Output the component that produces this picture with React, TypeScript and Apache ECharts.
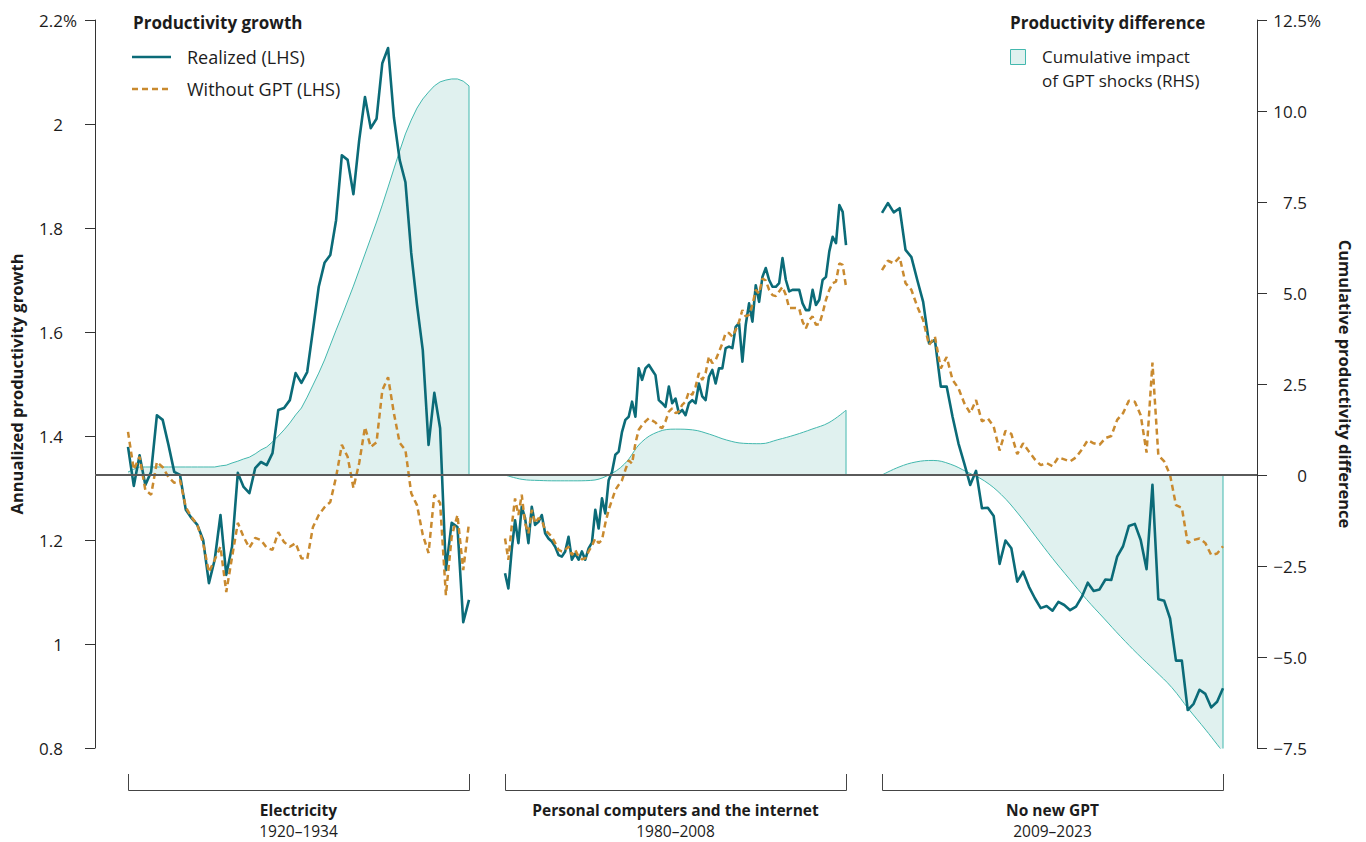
import React, { useEffect, useRef } from "react";
import * as echarts from "echarts";

// ---------- Data ----------
// Electricity 1920–1934 (quarterly), left axis: annualized productivity growth (%)
const ELEC_REALIZED = [
  1.379, 1.304, 1.363, 1.306, 1.331, 1.44, 1.431, 1.383, 1.331, 1.325,
  1.258, 1.242, 1.229, 1.2, 1.117, 1.162, 1.248, 1.133, 1.187, 1.329,
  1.302, 1.29, 1.338, 1.35, 1.344, 1.367, 1.45, 1.454, 1.469, 1.521,
  1.502, 1.523, 1.604, 1.687, 1.733, 1.748, 1.815, 1.94, 1.931, 1.865,
  1.969, 2.052, 1.992, 2.01, 2.117, 2.146, 2.013, 1.931, 1.888, 1.752,
  1.652, 1.565, 1.383, 1.483, 1.415, 1.142, 1.233, 1.225, 1.042, 1.085,
];
const ELEC_NO_GPT = [
  1.408, 1.335, 1.36, 1.296, 1.287, 1.35, 1.34, 1.321, 1.31, 1.315,
  1.263, 1.244, 1.229, 1.194, 1.138, 1.162, 1.187, 1.1, 1.167, 1.233,
  1.206, 1.185, 1.204, 1.2, 1.185, 1.181, 1.215, 1.196, 1.187, 1.194,
  1.165, 1.163, 1.225, 1.248, 1.263, 1.273, 1.321, 1.383, 1.36, 1.3,
  1.348, 1.417, 1.379, 1.388, 1.488, 1.513, 1.444, 1.387, 1.373, 1.29,
  1.267, 1.21, 1.175, 1.287, 1.271, 1.094, 1.206, 1.248, 1.142, 1.233,
];
// right axis: cumulative productivity difference (%)
const ELEC_IMPACT = [
  0.08, 0.16, 0.22, 0.22, 0.22, 0.22, 0.22, 0.22, 0.22, 0.22,
  0.22, 0.22, 0.22, 0.22, 0.22, 0.22, 0.25, 0.27, 0.33, 0.38,
  0.44, 0.49, 0.58, 0.69, 0.77, 0.91, 1.07, 1.24, 1.43, 1.65,
  1.84, 2.14, 2.47, 2.8, 3.16, 3.57, 3.98, 4.37, 4.78, 5.19,
  5.63, 6.07, 6.51, 6.95, 7.42, 7.91, 8.41, 8.9, 9.37, 9.75,
  10.08, 10.33, 10.52, 10.69, 10.8, 10.85, 10.88, 10.88, 10.82, 10.69,
];

// Personal computers and the internet 1980–2008
const PC_REALIZED = [
  1.136, 1.107, 1.181, 1.238, 1.194, 1.264, 1.242, 1.194, 1.264, 1.229,
  1.235, 1.248, 1.213, 1.203, 1.197, 1.187, 1.171, 1.168, 1.178, 1.206,
  1.162, 1.174, 1.162, 1.178, 1.162, 1.184, 1.195, 1.258, 1.222, 1.28,
  1.251, 1.315, 1.331, 1.364, 1.37, 1.408, 1.431, 1.437, 1.466, 1.437,
  1.53, 1.508, 1.53, 1.537, 1.527, 1.517, 1.469, 1.463, 1.456, 1.495,
  1.463, 1.472, 1.444, 1.45, 1.44, 1.463, 1.469, 1.463, 1.501, 1.476,
  1.469, 1.514, 1.527, 1.501, 1.53, 1.53, 1.569, 1.572, 1.569, 1.61,
  1.617, 1.543, 1.614, 1.655, 1.62, 1.69, 1.658, 1.706, 1.723, 1.7,
  1.687, 1.687, 1.694, 1.742, 1.7, 1.678, 1.681, 1.681, 1.681, 1.655,
  1.642, 1.642, 1.681, 1.652, 1.662, 1.7, 1.706, 1.755, 1.783, 1.771,
  1.844, 1.831, 1.767,
];
const PC_NO_GPT = [
  1.203, 1.162, 1.226, 1.28, 1.248, 1.287, 1.232, 1.213, 1.258, 1.232,
  1.242, 1.238, 1.219, 1.213, 1.206, 1.194, 1.181, 1.178, 1.181, 1.187,
  1.171, 1.181, 1.168, 1.163, 1.165, 1.178, 1.189, 1.203, 1.194, 1.2,
  1.232, 1.258, 1.277, 1.296, 1.306, 1.315, 1.335, 1.353, 1.347, 1.386,
  1.412, 1.421, 1.428, 1.434, 1.43, 1.426, 1.418, 1.415, 1.428, 1.447,
  1.453, 1.444, 1.447, 1.46, 1.466, 1.485, 1.479, 1.495, 1.521, 1.508,
  1.521, 1.553, 1.54, 1.546, 1.562, 1.578, 1.598, 1.598, 1.591, 1.604,
  1.62, 1.642, 1.63, 1.633, 1.652, 1.681, 1.674, 1.703, 1.699, 1.681,
  1.671, 1.669, 1.678, 1.687, 1.671, 1.646, 1.646, 1.646, 1.645, 1.62,
  1.607, 1.623, 1.63, 1.614, 1.615, 1.636, 1.662, 1.681, 1.694, 1.697,
  1.732, 1.729, 1.687,
];
const PC_IMPACT = [
  0, -0.12, -0.15, -0.16, -0.16, -0.15, -0.02, 0.3, 0.9, 1.19,
  1.26, 1.24, 1.12, 0.96, 0.87, 0.86, 0.97, 1.1, 1.26, 1.44, 1.78,
];

// No new GPT 2009–2023
const NONE_REALIZED = [
  1.829, 1.848, 1.83, 1.838, 1.758, 1.744, 1.7, 1.658, 1.578, 1.585,
  1.495, 1.495, 1.437, 1.386, 1.347, 1.306, 1.333, 1.261, 1.262, 1.246,
  1.154, 1.199, 1.184, 1.12, 1.139, 1.11, 1.088, 1.069, 1.073, 1.064,
  1.081, 1.075, 1.065, 1.072, 1.091, 1.118, 1.102, 1.105, 1.124, 1.123,
  1.168, 1.188, 1.227, 1.231, 1.2, 1.144, 1.306, 1.086, 1.083, 1.049,
  0.968, 0.968, 0.873, 0.885, 0.912, 0.904, 0.878, 0.889, 0.915,
];
const NONE_NO_GPT = [
  1.719, 1.737, 1.732, 1.744, 1.694, 1.681, 1.649, 1.623, 1.575, 1.591,
  1.53, 1.552, 1.508, 1.492, 1.463, 1.444, 1.469, 1.428, 1.434, 1.418,
  1.372, 1.41, 1.404, 1.365, 1.386, 1.37, 1.355, 1.344, 1.348, 1.342,
  1.359, 1.355, 1.351, 1.359, 1.374, 1.392, 1.386, 1.383, 1.396, 1.4,
  1.431, 1.444, 1.468, 1.466, 1.44, 1.368, 1.541, 1.363, 1.351, 1.325,
  1.267, 1.262, 1.194, 1.2, 1.203, 1.194, 1.171, 1.174, 1.188,
];
const NONE_IMPACT = [
  0, 0.22, 0.36, 0.4, 0.3, 0.08, -0.16, -0.54, -1.07, -1.68,
  -2.29, -2.86, -3.42, -3.93, -4.44, -4.92, -5.37, -5.84, -6.44, -7.01, -7.61,
];

const SEGMENT_NAMES = ["Electricity", "Personal computers and the internet", "No new GPT"];
const SEGMENT_YEARS = ["1920–1934", "1980–2008", "2009–2023"];

const LEFT_MIN = 0.8;
const LEFT_MAX = 2.2;
const LEFT_STEP = 0.2;
const RIGHT_MIN = -7.5;
const RIGHT_MAX = 12.5;
const RIGHT_STEP = 2.5;

// ---------- Layout / style ----------
const SEG_START = [0, 1.1056, 2.2111];
const X_MIN = -0.0968;
const X_MAX = 3.3108;
const REAL_COLOR = "#0b6b78";
const NOGPT_COLOR = "#c98a2f";
const AREA_FILL = "#e0f1ef";
const AREA_LINE = "#43b8ae";
const TEXT = "#1c1c1c";
const FONT = '"Open Sans", "Noto Sans", sans-serif';
const TICK_SIZE = 17;

const REALIZED = [ELEC_REALIZED, PC_REALIZED, NONE_REALIZED];
const NO_GPT = [ELEC_NO_GPT, PC_NO_GPT, NONE_NO_GPT];
const IMPACT = [ELEC_IMPACT, PC_IMPACT, NONE_IMPACT];

function toXY(arr: number[], seg: number) {
  const n = arr.length;
  return arr.map((v, i) => [SEG_START[seg] + i / (n - 1), v]);
}

const leftNum = (v: number) => String(Math.round(v * 10) / 10);
const rightNum = (v: number) => {
  const r = Math.round(v * 10) / 10;
  if (r === 0) return "0";
  return (r < 0 ? "\u2212" : "") + Math.abs(r).toFixed(1);
};

let measureCtx: CanvasRenderingContext2D | null = null;
function textW(s: string, size: number) {
  if (!measureCtx) measureCtx = document.createElement("canvas").getContext("2d");
  if (!measureCtx) return s.length * size * 0.55;
  measureCtx.font = `${size}px ${FONT}`;
  return measureCtx.measureText(s).width;
}

// builds a right-aligned (by number) rich label set whose top tick gets a hanging "%"
function buildLabels(min: number, max: number, step: number, fmt: (v: number) => string, box: number) {
  const rich: any = { p: { fontFamily: FONT, fontSize: TICK_SIZE, color: TEXT } };
  const count = Math.round((max - min) / step);
  for (let k = 0; k <= count; k++) {
    const s = fmt(min + k * step);
    rich["t" + k] = {
      fontFamily: FONT,
      fontSize: TICK_SIZE,
      color: TEXT,
      padding: [0, 0, 0, Math.max(0, box - textW(s, TICK_SIZE))],
    };
  }
  const formatter = (v: number) => {
    const k = Math.round((v - min) / step);
    const s = fmt(v);
    return `{t${k}|${s}}` + (k === count ? "{p|%}" : "");
  };
  return { rich, formatter };
}

export default function App() {
  const ref = useRef<HTMLDivElement>(null);

  useEffect(() => {
    if (!ref.current) return;
    const chart = echarts.init(ref.current, null, { renderer: "svg" });

    const series: any[] = [];
    for (let s = 0; s < 3; s++) {
      const imp = IMPACT[s];
      series.push({
        type: "line",
        name: "impact" + s,
        yAxisIndex: 1,
        data: toXY(imp, s),
        symbol: "none",
        smooth: s === 0 ? false : 0.4,
        lineStyle: { color: AREA_LINE, width: 1 },
        areaStyle: { color: AREA_FILL, opacity: 1 },
        z: 1,
        silent: true,
        markLine:
          s === 0
            ? {
                symbol: "none",
                silent: true,
                label: { show: false },
                lineStyle: { color: "#5a5a5a", width: 1.8, type: "solid" },
                data: [{ yAxis: 0 }],
              }
            : undefined,
      });
      series.push({
        type: "line",
        name: "edge" + s,
        yAxisIndex: 1,
        data: [
          [SEG_START[s] + 1, imp[imp.length - 1]],
          [SEG_START[s] + 1, 0],
        ],
        symbol: "none",
        lineStyle: { color: AREA_LINE, width: 1 },
        z: 1,
        silent: true,
      });
    }
    for (let s = 0; s < 3; s++) {
      series.push({
        type: "line",
        name: "realized" + s,
        yAxisIndex: 0,
        data: toXY(REALIZED[s], s),
        symbol: "none",
        lineStyle: { color: REAL_COLOR, width: 2.6, join: "round" },
        z: 3,
        silent: true,
      });
      series.push({
        type: "line",
        name: "nogpt" + s,
        yAxisIndex: 0,
        data: toXY(NO_GPT[s], s),
        symbol: "none",
        lineStyle: { color: NOGPT_COLOR, width: 2.5, type: [6, 4] },
        z: 4,
        silent: true,
      });
    }

    const leftLab = buildLabels(LEFT_MIN, LEFT_MAX, LEFT_STEP, leftNum, 33);
    const rightLab = buildLabels(RIGHT_MIN, RIGHT_MAX, RIGHT_STEP, rightNum, 37);

    chart.setOption({
      animation: false,
      textStyle: { fontFamily: FONT },
      grid: {
        left: 95,
        right: 109,
        top: 20,
        bottom: 94,
        containLabel: false,
        outerBoundsMode: "none",
      },
      xAxis: {
        type: "value",
        min: X_MIN,
        max: X_MAX,
        show: false,
      },
      yAxis: [
        {
          type: "value",
          position: "left",
          min: LEFT_MIN,
          max: LEFT_MAX,
          interval: LEFT_STEP,
          name: "Annualized productivity growth",
          nameLocation: "middle",
          nameGap: 70,
          nameTextStyle: { fontFamily: FONT, fontSize: 16.5, fontWeight: "bold", color: TEXT },
          axisLine: { show: true, onZero: false, lineStyle: { color: "#333", width: 1 } },
          axisTick: { show: true, inside: false, length: 10, lineStyle: { color: "#333" } },
          splitLine: { show: false },
          axisLabel: {
            margin: 65,
            align: "left",
            formatter: leftLab.formatter,
            rich: leftLab.rich,
          },
        },
        {
          type: "value",
          position: "right",
          min: RIGHT_MIN,
          max: RIGHT_MAX,
          interval: RIGHT_STEP,
          name: "Cumulative productivity difference",
          nameLocation: "middle",
          nameGap: 80,
          nameRotate: -90,
          nameTextStyle: { fontFamily: FONT, fontSize: 16.5, fontWeight: "bold", color: TEXT },
          axisLine: { show: true, onZero: false, lineStyle: { color: "#333", width: 1 } },
          axisTick: { show: true, inside: false, length: 10, lineStyle: { color: "#333" } },
          splitLine: { show: false },
          axisLabel: {
            margin: 13,
            align: "left",
            formatter: rightLab.formatter,
            rich: rightLab.rich,
          },
        },
      ],
      series,
    });

    // legend + bracket annotations
    const g: any[] = [];
    const bold = `bold 17px ${FONT}`;
    const reg = `18px ${FONT}`;
    const reg2 = `17px ${FONT}`;
    const segBold = `bold 15.5px ${FONT}`;
    const segReg = `15.5px ${FONT}`;
    g.push({
      type: "text",
      x: 133,
      y: 22,
      style: { text: "Productivity growth", font: bold, fill: TEXT, verticalAlign: "middle" },
    });
    g.push({
      type: "line",
      shape: { x1: 132, y1: 57, x2: 171, y2: 57 },
      style: { stroke: REAL_COLOR, lineWidth: 2.6 },
    });
    g.push({
      type: "text",
      x: 187,
      y: 57,
      style: { text: "Realized (LHS)", font: reg, fill: TEXT, verticalAlign: "middle" },
    });
    g.push({
      type: "line",
      shape: { x1: 132, y1: 89, x2: 171, y2: 89 },
      style: { stroke: NOGPT_COLOR, lineWidth: 2.5, lineDash: [6, 4] },
    });
    g.push({
      type: "text",
      x: 187,
      y: 89,
      style: { text: "Without GPT (LHS)", font: reg, fill: TEXT, verticalAlign: "middle" },
    });
    g.push({
      type: "text",
      x: 1010,
      y: 22,
      style: { text: "Productivity difference", font: bold, fill: TEXT, verticalAlign: "middle" },
    });
    g.push({
      type: "rect",
      shape: { x: 1010.5, y: 49.5, width: 15, height: 15 },
      style: { fill: AREA_FILL, stroke: AREA_LINE, lineWidth: 1 },
    });
    g.push({
      type: "text",
      x: 1042,
      y: 56,
      style: { text: "Cumulative impact", font: reg2, fill: TEXT, verticalAlign: "middle" },
    });
    g.push({
      type: "text",
      x: 1042,
      y: 80,
      style: { text: "of GPT shocks (RHS)", font: reg2, fill: TEXT, verticalAlign: "middle" },
    });

    for (let s = 0; s < 3; s++) {
      const x0 = chart.convertToPixel({ xAxisIndex: 0 }, SEG_START[s]) as number;
      const x1 = chart.convertToPixel({ xAxisIndex: 0 }, SEG_START[s] + 1) as number;
      const cx = (x0 + x1) / 2;
      g.push({
        type: "polyline",
        shape: {
          points: [
            [Math.round(x0) + 0.5, 774],
            [Math.round(x0) + 0.5, 790.5],
            [Math.round(x1) + 0.5, 790.5],
            [Math.round(x1) + 0.5, 774],
          ],
        },
        style: { stroke: "#444", lineWidth: 1, fill: null },
      });
      g.push({
        type: "text",
        x: cx,
        y: 809.5,
        style: {
          text: SEGMENT_NAMES[s],
          font: segBold,
          fill: TEXT,
          align: "center",
          verticalAlign: "middle",
        },
      });
      g.push({
        type: "text",
        x: cx,
        y: 831,
        style: {
          text: SEGMENT_YEARS[s],
          font: segReg,
          fill: TEXT,
          align: "center",
          verticalAlign: "middle",
        },
      });
    }
    chart.setOption({ graphic: g });

    return () => chart.dispose();
  }, []);

  return (
    <div
      ref={ref}
      style={{ position: "fixed", left: 0, top: 0, width: 1366, height: 842, background: "#fff" }}
    />
  );
}
